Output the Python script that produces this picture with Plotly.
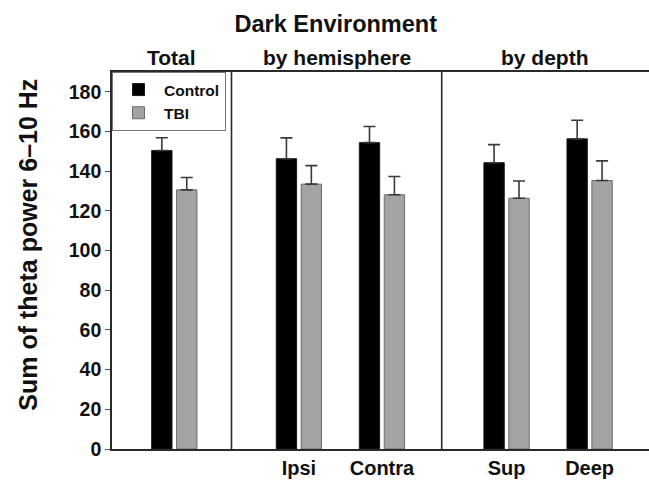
import plotly.graph_objects as go

# ---- data ----
groups = ["Total", "Ipsi", "Contra", "Sup", "Deep"]
control = [150.4, 146.3, 154.4, 144.3, 156.3]
control_err = [6.5, 10.5, 8.1, 9.1, 9.4]
tbi = [130.6, 133.5, 128.1, 126.4, 135.3]
tbi_err = [6.2, 9.3, 9.2, 8.7, 9.9]
tick_labels = ["Ipsi", "Contra", "Sup", "Deep"]
section_titles = ["Total", "by hemisphere", "by depth"]
y_title = "Sum of theta power 6–10 Hz"

# ---- layout helpers (axis coordinates of the groups / sections) ----
group_pos = {"Total": 1, "Ipsi": 4, "Contra": 6, "Sup": 9, "Deep": 11}
x_range = [-0.5, 12.43]
dividers = [2.377, 7.439]
section_edges = [x_range[0]] + dividers + [x_range[1]]

FONT = "Liberation Sans, Arial, Helvetica, sans-serif"
xs = [group_pos[g] for g in groups]

fig = go.Figure()
fig.add_trace(go.Bar(
    x=xs, y=control, name="Control",
    width=0.49, offset=-0.545,
    marker=dict(color="#000000", line=dict(color="#1a1a1a", width=1)),
    error_y=dict(type="data", array=control_err, arrayminus=[0] * len(control_err),
                 symmetric=False, color="#3a3a3a", thickness=1.6, width=6),
))
fig.add_trace(go.Bar(
    x=xs, y=tbi, name="TBI",
    width=0.49, offset=0.055,
    marker=dict(color="#a3a3a3", line=dict(color="#6a6a6a", width=1)),
    error_y=dict(type="data", array=tbi_err, arrayminus=[0] * len(tbi_err),
                 symmetric=False, color="#3a3a3a", thickness=1.6, width=6),
))

shapes = []
for d in dividers:
    shapes.append(dict(type="line", xref="x", yref="paper", x0=d, x1=d, y0=0, y1=1,
                       line=dict(color="#2a2a2a", width=1.6)))

annotations = []
for i, t in enumerate(section_titles):
    cx = (section_edges[i] + section_edges[i + 1]) / 2
    annotations.append(dict(text=t, xref="x", yref="paper", x=cx, y=1,
                            xanchor="center", yanchor="bottom", yshift=1, showarrow=False,
                            font=dict(family=FONT, size=21, color="#111", weight="bold")))
# y-axis title (placed like the reference, slightly above the plot's middle)
annotations.append(dict(text=y_title, xref="paper", yref="paper",
                        x=-0.1564, y=0.542, xanchor="center", yanchor="middle",
                        textangle=-90, showarrow=False,
                        font=dict(family=FONT, size=25, color="#111", weight="bold")))

fig.update_layout(
    width=649, height=480,
    margin=dict(l=112, r=0, t=72, b=31, autoexpand=False),
    paper_bgcolor="white", plot_bgcolor="white",
    barmode="overlay",
    font=dict(family=FONT, color="#111", weight="bold"),
    title=dict(text="Dark Environment", x=335.8 / 649, xanchor="center", xref="container",
               y=1 - 24 / 480, yanchor="middle", yref="container",
               font=dict(family=FONT, size=23.5, color="#111", weight="bold")),
    showlegend=True,
    legend=dict(x=0, y=1, xanchor="left", yanchor="top", xref="paper", yref="paper",
                bgcolor="white", bordercolor="#777", borderwidth=1,
                font=dict(family=FONT, size=15.5, color="#111", weight="bold"),
                tracegroupgap=0, itemwidth=41),
    xaxis=dict(range=x_range, tickvals=[group_pos[t] for t in tick_labels], ticktext=tick_labels,
               showline=True, mirror=True, linecolor="#2a2a2a", linewidth=1.6,
               ticks="", showgrid=False, zeroline=False,
               tickfont=dict(family=FONT, size=20, color="#111", weight="bold")),
    yaxis=dict(range=[0, 190], tickvals=list(range(0, 181, 20)),
               showline=True, linecolor="#2a2a2a", linewidth=1.6,
               ticks="outside", ticklen=5, tickwidth=1, tickcolor="#555",
               showgrid=False, zeroline=False,
               tickfont=dict(family=FONT, size=19.5, color="#111", weight="bold")),
    shapes=shapes,
    annotations=annotations,
)

fig.write_html("out.html", config={"displayModeBar": False},
               post_script="document.body.style.margin='0';document.body.style.overflow='hidden';")
